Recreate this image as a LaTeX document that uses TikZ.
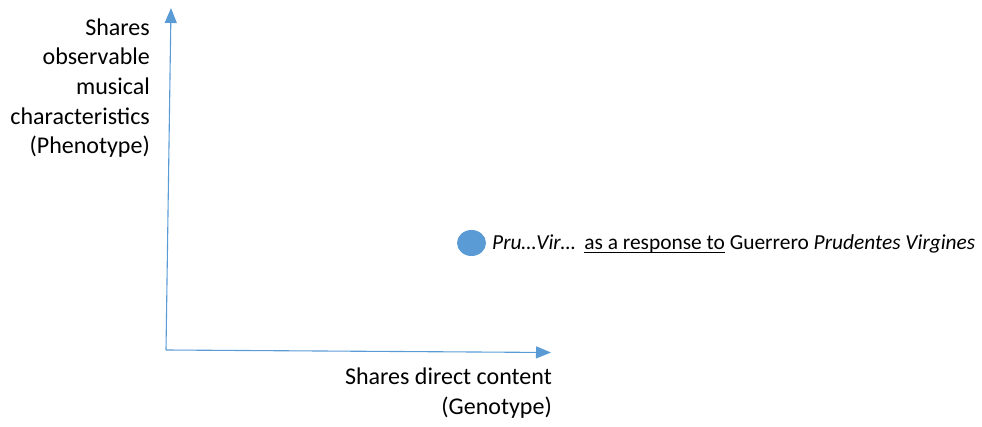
\documentclass[tikz,border=0pt]{standalone}
\usepackage{fontspec}
\setmainfont{Carlito}
\usetikzlibrary{arrows.meta,shapes.geometric}
\definecolor{axisblue}{HTML}{5B9BD5}
% underline drawn as a rule just below the baseline
\newcommand{\ulrule}[1]{\leavevmode\setbox0\hbox{#1}\rlap{\raisebox{-3.2pt}{\rule{\wd0}{1.3pt}}}\box0\relax}
\tikzset{
  axisline/.style={draw=axisblue, line width=1.1pt, -{Triangle[length=15pt,width=12pt]}},
  label/.style={font=\fontsize{24}{29.7}\selectfont, inner sep=0pt, align=right},
  dotmark/.style={ellipse, fill=axisblue, draw=none, minimum width=29pt, minimum height=26pt, inner sep=0pt}
}
\begin{document}
\begin{tikzpicture}[x=1pt,y=1pt]
\useasboundingbox (0,0) rectangle (982,426);
% axes
\coordinate (origin) at (166,76);
\coordinate (ytop) at (171,418);
\coordinate (xend) at (551,73.5);
\draw[axisline] (origin) -- (ytop);
\draw[axisline] (origin) -- (xend);
% axis labels (anchored on the baseline of the last line)
\node[label, anchor=base east] (ylab) at (150,272)
  {Shares\\observable\\musical\\characteristics\\(Phenotype)};
\node[label, anchor=base east] (xlab) at (552,12)
  {Shares direct content\\(Genotype)};
% plotted item
\node[dotmark] (dot) at (471.5,183) {};
\node[font=\fontsize{21.4}{26}\selectfont, inner sep=0pt, anchor=base west] (item) at (492,176)
  {\textit{Pru…Vir…}\hspace{4pt} \ulrule{as a response to} Guerrero \textit{Prudentes Virgines}};
\end{tikzpicture}
\end{document}
